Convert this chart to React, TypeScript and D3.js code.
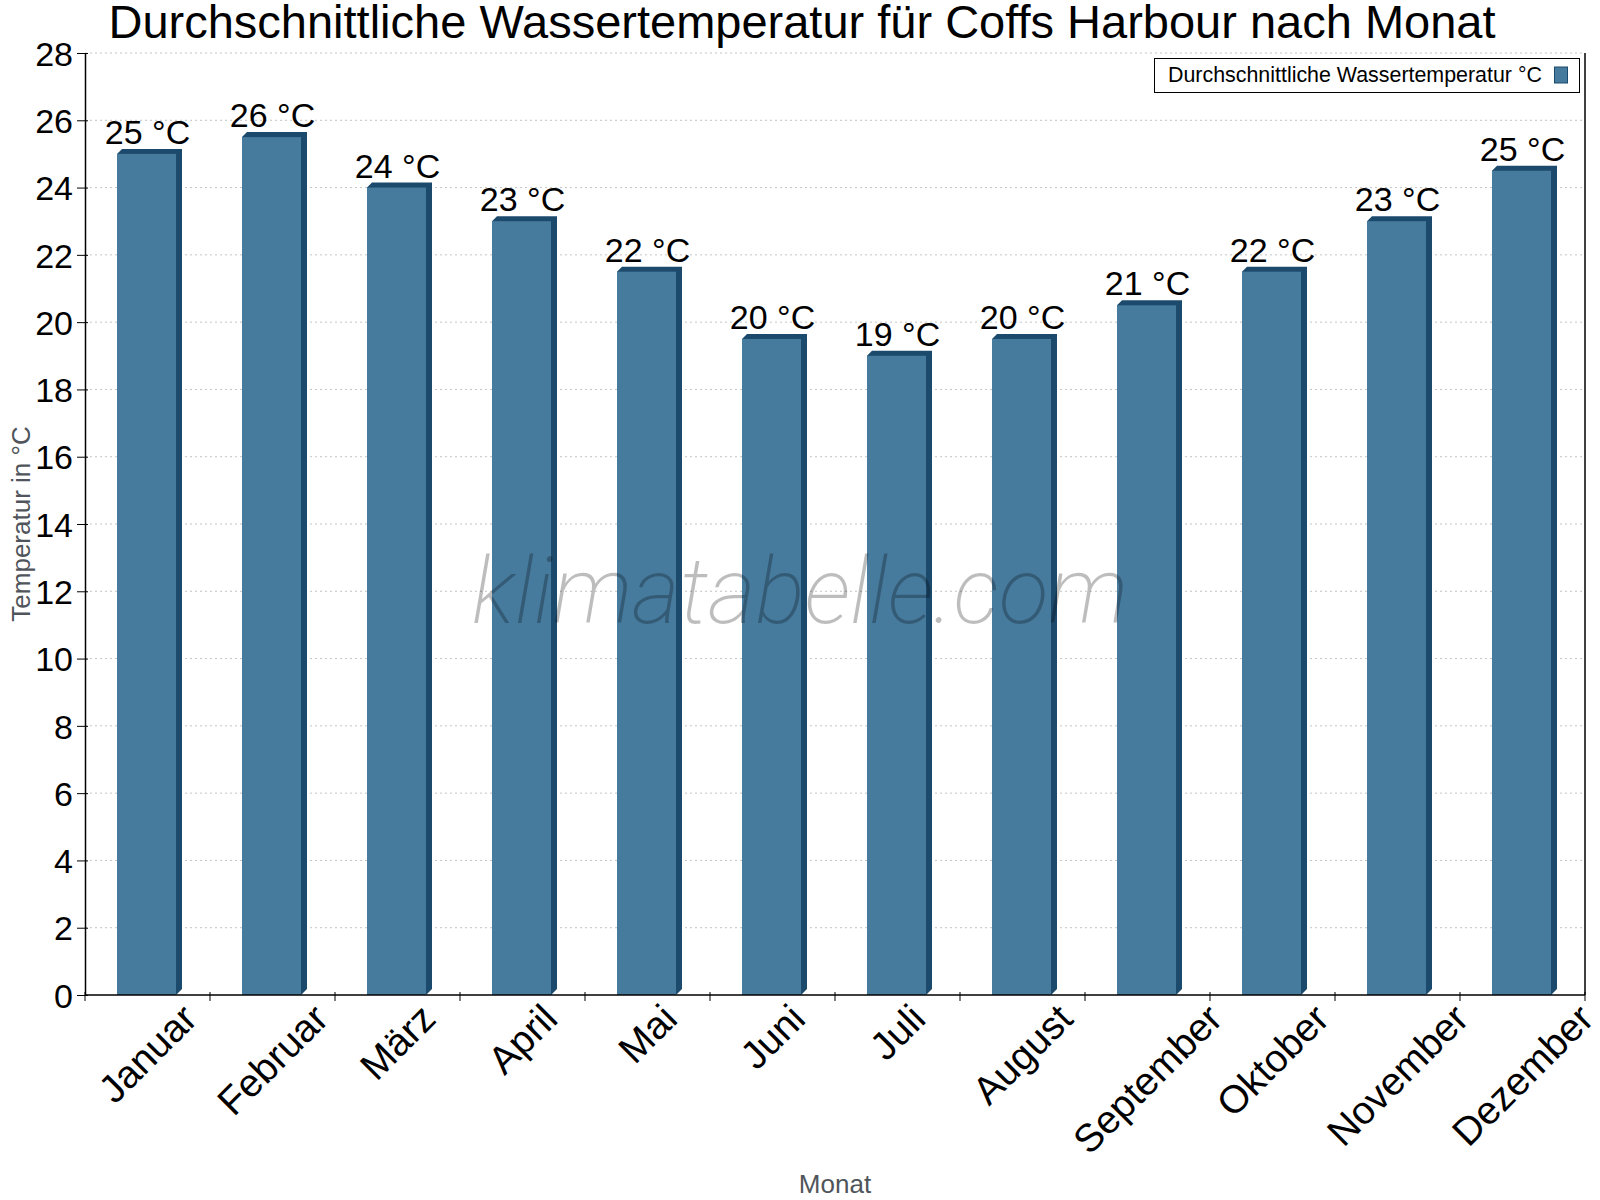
import * as d3 from "d3";
import { useEffect, useRef } from "react";

const months = [
  "Januar", "Februar", "März", "April", "Mai", "Juni",
  "Juli", "August", "September", "Oktober", "November", "Dezember",
];
const waterTemp = [25, 25.5, 24, 23, 21.5, 19.5, 19, 19.5, 20.5, 21.5, 23, 24.5];
const yTicks = [0, 2, 4, 6, 8, 10, 12, 14, 16, 18, 20, 22, 24, 26, 28];

const seriesName = "Durchschnittliche Wassertemperatur °C";
const title = "Durchschnittliche Wassertemperatur für Coffs Harbour nach Monat";

const FONT = "'Liberation Sans', Arial, Helvetica, sans-serif";
const FRONT = "#477b9e";
const DARK = "#1c4a6c";

const App = () => {
  const svgRef = useRef<SVGSVGElement>(null);

  useEffect(() => {
    const svg = d3.select(svgRef.current);
    svg.selectAll("*").remove();

    const W = 1600;
    const H = 1200;
    const margin = { top: 53, right: 15, bottom: 205, left: 85 };
    const left = margin.left;
    const right = W - margin.right;
    const top = margin.top;
    const bottom = H - margin.bottom;

    svg.attr("width", W).attr("height", H).style("font-family", FONT);
    svg.append("rect").attr("width", W).attr("height", H).attr("fill", "#fff");

    const x = d3.scaleBand().domain(months).range([left, right]).padding(0);
    const xBar = d3
      .scaleBand()
      .domain(months)
      .range([left, right])
      .paddingInner(0.528)
      .paddingOuter(0.264);
    const y = d3.scaleLinear().domain([0, 28]).range([bottom, top]);
    const depth = 6;

    // grid
    svg
      .append("g")
      .selectAll("line")
      .data(yTicks.filter((t) => t > 0))
      .enter()
      .append("line")
      .attr("x1", left)
      .attr("x2", right)
      .attr("y1", (d) => y(d))
      .attr("y2", (d) => y(d))
      .attr("stroke", "#c4c4c4")
      .attr("stroke-width", 1)
      .attr("stroke-dasharray", "2,3");

    // bars with shadow
    const bars = svg.append("g");
    months.forEach((m, i) => {
      const x0 = (xBar(m) || 0) - 1;
      const x1 = x0 + xBar.bandwidth();
      const yt = y(waterTemp[i]);
      const y0 = y(0);
      bars
        .append("polygon")
        .attr(
          "points",
          [
            [x0, yt],
            [x0 + depth - 1, yt - depth + 1],
            [x1 + depth, yt - depth + 1],
            [x1 + depth, y0 - depth],
            [x1, y0],
          ]
            .map((p) => p.join(","))
            .join(" ")
        )
        .attr("fill", DARK);
      bars
        .append("rect")
        .attr("x", x0)
        .attr("y", yt)
        .attr("width", x1 - x0)
        .attr("height", y0 - yt)
        .attr("fill", FRONT);
    });

    // value labels
    svg
      .append("g")
      .selectAll("text")
      .data(waterTemp)
      .enter()
      .append("text")
      .attr("x", (d, i) => (x(months[i]) || 0) + x.bandwidth() / 2)
      .attr("y", (d) => y(d) - 10)
      .attr("text-anchor", "middle")
      .style("font-size", "34px")
      .style("fill", "#000")
      .text((d) => `${Math.round(d)} °C`);

    // y axis
    const yAxis = svg
      .append("g")
      .attr("transform", `translate(${left},0)`)
      .call(d3.axisLeft(y).tickValues(yTicks).tickSizeInner(8).tickSizeOuter(0).tickPadding(6));
    yAxis.select(".domain").attr("stroke", "#000").attr("stroke-width", 1.5);
    yAxis.selectAll(".tick line").attr("x1", 3).attr("stroke", "#000");
    yAxis
      .selectAll(".tick text")
      .attr("x", -12)
      .attr("dy", "0.36em")
      .style("font-size", "34px")
      .style("font-family", FONT)
      .attr("fill", "#000");

    // right border
    svg
      .append("line")
      .attr("x1", right)
      .attr("x2", right)
      .attr("y1", top)
      .attr("y2", bottom)
      .attr("stroke", "#000")
      .attr("stroke-width", 1.5);

    // x axis line + ticks at band edges
    const xg = svg.append("g");
    xg.append("line")
      .attr("x1", left)
      .attr("x2", right)
      .attr("y1", bottom)
      .attr("y2", bottom)
      .attr("stroke", "#000")
      .attr("stroke-width", 1.5);
    const edges = months.map((m) => x(m) || 0).concat([right]);
    xg.selectAll(".xt")
      .data(edges)
      .enter()
      .append("line")
      .attr("x1", (d) => d)
      .attr("x2", (d) => d)
      .attr("y1", bottom - 3)
      .attr("y2", bottom + 6)
      .attr("stroke", "#000");

    // rotated month labels, centered on band
    months.forEach((m) => {
      const g = xg.append("g");
      g.append("text")
        .attr("text-anchor", "end")
        .attr("transform", "rotate(-45)")
        .style("font-size", "39px")
        .style("fill", "#000")
        .text(m);
      const bb = (g.node() as SVGGElement).getBBox();
      const cx = (x(m) || 0) + x.bandwidth() / 2;
      g.attr("transform", `translate(${cx - (bb.x + bb.width / 2)},${bottom + 26})`);
    });

    // axis titles
    svg
      .append("text")
      .attr("transform", `translate(30,${(top + bottom) / 2}) rotate(-90)`)
      .attr("text-anchor", "middle")
      .style("font-size", "26px")
      .style("fill", "#50555b")
      .text("Temperatur in °C");
    svg
      .append("text")
      .attr("x", (left + right) / 2)
      .attr("y", 1193)
      .attr("text-anchor", "middle")
      .style("font-size", "26px")
      .style("fill", "#50555b")
      .text("Monat");

    // title
    svg
      .append("text")
      .attr("x", 802)
      .attr("y", 38)
      .attr("text-anchor", "middle")
      .style("font-size", "47px")
      .style("fill", "#000")
      .text(title);

    // legend
    const legend = svg.append("g");
    legend
      .append("rect")
      .attr("x", 1154.5)
      .attr("y", 58.5)
      .attr("width", 425)
      .attr("height", 34)
      .attr("fill", "#fff")
      .attr("stroke", "#000");
    legend
      .append("text")
      .attr("x", 1168)
      .attr("y", 82)
      .style("font-size", "21.4px")
      .style("fill", "#000")
      .text(seriesName);
    legend
      .append("rect")
      .attr("x", 1554.5)
      .attr("y", 67)
      .attr("width", 13)
      .attr("height", 16)
      .attr("fill", FRONT)
      .attr("stroke", DARK);

    // watermark
    svg
      .append("text")
      .attr("x", 800)
      .attr("y", 623)
      .attr("text-anchor", "middle")
      .style("font-family", "Roboto, sans-serif")
      .style("font-weight", 200)
      .style("font-style", "italic")
      .style("font-size", "92px")
      .style("fill", "#000")
      .style("fill-opacity", 0.26)
      .text("klimatabelle.com");
  }, []);

  return (
    <svg
      ref={svgRef}
      style={{ position: "absolute", left: 0, top: 0, display: "block" }}
    ></svg>
  );
};

export default App;
